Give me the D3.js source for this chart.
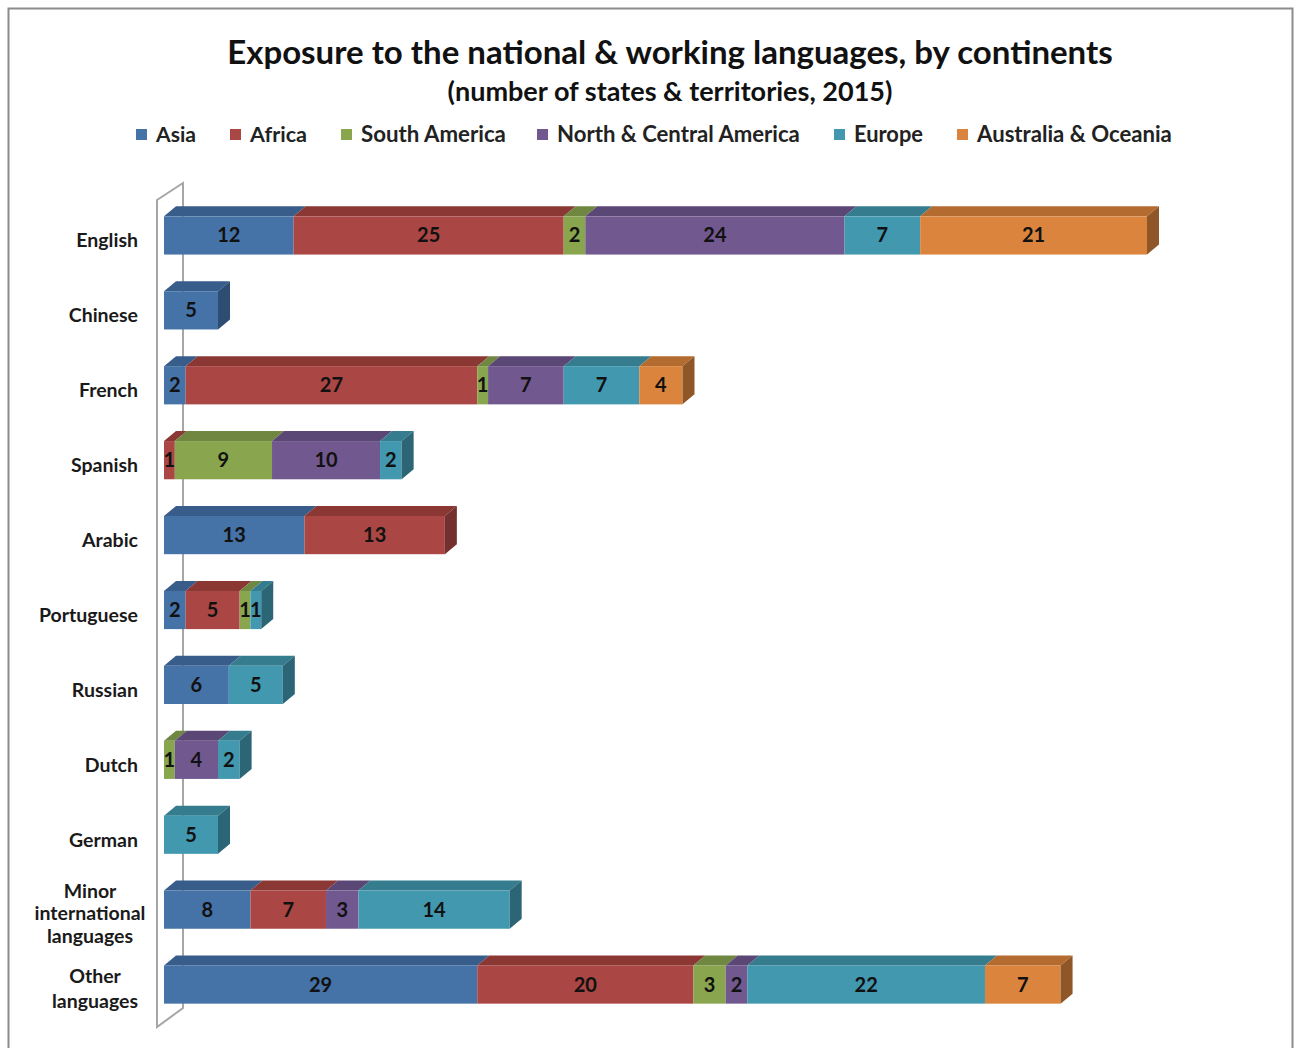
<!DOCTYPE html>
<html><head><meta charset="utf-8">
<script src="https://cdn.jsdelivr.net/npm/d3@7/dist/d3.min.js"></script>
<style>body{margin:0;background:#fff}svg{display:block}text{font-family:Lato,"Open Sans",sans-serif}</style>
</head><body><svg id="c" width="1301" height="1048"></svg>
<script>
const languages = ["English","Chinese","French","Spanish","Arabic","Portuguese","Russian","Dutch","German","Minor international languages","Other languages"];
const continents = ["Asia","Africa","South America","North & Central America","Europe","Australia & Oceania"];
const asia      = [12, 5,  2, 0, 13, 2, 6, 0, 0, 8, 29];
const africa    = [25, 0, 27, 1, 13, 5, 0, 0, 0, 7, 20];
const southAm   = [ 2, 0,  1, 9,  0, 1, 0, 1, 0, 0,  3];
const northAm   = [24, 0,  7,10,  0, 0, 0, 4, 0, 3,  2];
const europe    = [ 7, 0,  7, 2,  0, 1, 5, 2, 5,14, 22];
const oceania   = [21, 0,  4, 0,  0, 0, 0, 0, 0, 0,  7];
const seriesVals = [asia, africa, southAm, northAm, europe, oceania];
const title = "Exposure to the national & working languages, by continents";
const subtitle = "(number of states & territories, 2015)";

const front = ["#4572A7","#AA4643","#89A54E","#71588F","#4198AF","#DB843D"];
const topC  = ["#385D8A","#8B3835","#6F8740","#5B4775","#357C8E","#B36B30"];
const sideC = ["#2E4D73","#73302E","#5C7035","#4B3B61","#2C6676","#8F5628"];

const svg = d3.select("#c");
svg.append("rect").attr("x",8.5).attr("y",8.5).attr("width",1284).attr("height",1100)
  .attr("fill","none").attr("stroke","#8c8c8c").attr("stroke-width",2);

function fit(t, w){ let fs=+t.attr("font-size"); const cur=t.node().getComputedTextLength(); t.attr("font-size", fs*w/cur); }

const tt = svg.append("text").attr("x",670).attr("y",64).attr("text-anchor","middle")
  .attr("font-size",30).attr("font-weight","bold").attr("fill","#111").text(title);
fit(tt, 886);
const st = svg.append("text").attr("x",670).attr("y",101).attr("text-anchor","middle")
  .attr("font-size",22).attr("font-weight","bold").attr("fill","#111").text(subtitle);
fit(st, 445);

// legend
const legX = [136, 230, 341, 537, 834, 957];
const legW = [40, 57, 145, 243, 69, 195];
const leg = svg.append("g");
continents.forEach((c,i)=>{
  leg.append("rect").attr("x",legX[i]).attr("y",129).attr("width",11).attr("height",11).attr("fill",front[i]);
  const t = leg.append("text").attr("x",legX[i]+20).attr("y",142).attr("font-size",19).attr("font-weight","bold").attr("fill","#222").text(c);
  fit(t, legW[i]);
});

const x = d3.scaleLinear().domain([0,91]).range([164,1147]);
const y = d3.scaleBand().domain(languages).range([198, 1022]).paddingInner(0.49).paddingOuter(0.245);
const dx = 12, dy = 10;

// wall
svg.append("path").attr("d","M157,200 L183,183 L183,1008 L157,1027 Z")
  .attr("fill","none").attr("stroke","#a6a6a6").attr("stroke-width",2);

const bars = svg.append("g");
languages.forEach((lang, li)=>{
  const y0 = y(lang), h = y.bandwidth();
  let cum = 0;
  const segs = [];
  seriesVals.forEach((arr, si)=>{ const v = arr[li]; if(v>0){ segs.push({si, a:cum, b:cum+v, v}); cum+=v; } });
  segs.forEach((s, k)=>{
    const xa = x(s.a), xb = x(s.b);
    bars.append("path").attr("d",`M${xa},${y0} L${xa+dx},${y0-dy} L${xb+dx},${y0-dy} L${xb},${y0} Z`).attr("fill",topC[s.si]);
    bars.append("rect").attr("x",xa).attr("y",y0).attr("width",xb-xa).attr("height",h).attr("fill",front[s.si]);
    if(k===segs.length-1){
      bars.append("path").attr("d",`M${xb},${y0} L${xb+dx},${y0-dy} L${xb+dx},${y0+h-dy} L${xb},${y0+h} Z`).attr("fill",sideC[s.si]);
    }
    bars.append("text").attr("x",(xa+xb)/2).attr("y",y0+h/2+7).attr("text-anchor","middle")
      .attr("font-size",20).attr("font-weight","bold").attr("fill","#111").text(s.v);
  });
});

// category labels
const lab = svg.append("g");
languages.forEach((lang)=>{
  const cy = y(lang) + y.bandwidth()/2;
  const words = lang.split(" ");
  if(words.length===1){
    lab.append("text").attr("x",138).attr("y",cy+12).attr("text-anchor","end").attr("font-size",19.5).attr("font-weight","bold").attr("fill","#1a1a1a").text(lang);
  } else {
    const lines = words;
    const lh = lines.length===3 ? 22.5 : 25;
    const start = lines.length===3 ? cy - 12 : cy - 2;
    lines.forEach((w,j)=>{
      lab.append("text").attr("x",lines.length===3?90:95).attr("y",start + j*lh).attr("text-anchor","middle").attr("font-size",19.5).attr("font-weight","bold").attr("fill","#1a1a1a").text(w);
    });
  }
});
</script></body></html>
